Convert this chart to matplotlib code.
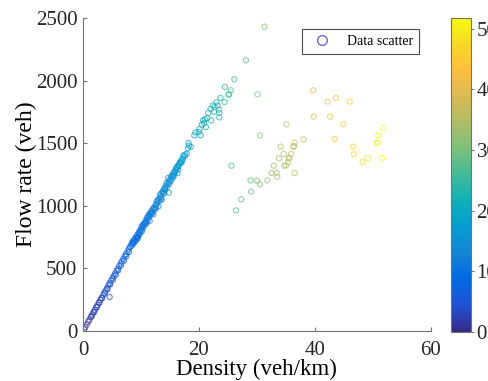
import numpy as np
import matplotlib
matplotlib.use("Agg")
import matplotlib.pyplot as plt
from matplotlib.colors import LinearSegmentedColormap, Normalize
from matplotlib.cm import ScalarMappable
from matplotlib.lines import Line2D

# free-flow branch (density veh/km, flow veh)
free_density = [
    0.2, 0.4, 0.65, 0.9, 1.1, 1.35, 1.6, 1.8, 2.05, 2.3, 2.5, 2.75, 3.0, 3.2,
    3.45, 3.7, 3.9, 4.15, 4.4, 4.6, 4.85, 5.1, 5.3, 5.55, 5.8, 6.0, 6.25, 6.5,
    6.7, 6.95, 7.2, 7.4, 7.65, 7.9, 8.1,
    1.5, 1.95, 2.4, 2.85, 3.3, 3.75, 4.25, 4.7, 5.2, 5.65, 6.1, 6.6, 7.05, 7.5,
    7.95, 4.6,
    8.3, 8.4, 8.5, 8.6, 8.7, 8.8, 8.9, 9.0, 9.1, 9.2, 9.3, 9.4, 9.5, 9.6, 9.7,
    9.8, 9.9, 10.0, 10.1, 10.2, 10.3, 10.4, 10.5, 10.6, 10.7, 10.8, 10.9, 11.0,
    11.1, 11.2, 11.3, 11.4, 11.5, 11.5, 11.6, 11.7, 11.8, 11.9, 12.0, 12.1,
    12.2, 12.3, 12.4, 12.5, 12.6, 12.7, 12.8, 12.9, 13.0, 13.1, 13.2, 13.3,
    13.4, 13.5, 13.6, 13.7, 13.8, 13.9, 14.0, 14.1, 14.2, 14.3, 14.4, 14.5,
    14.6, 14.7, 14.8, 14.8, 15.0, 15.1, 15.2, 15.3, 15.4, 15.5, 15.6, 15.7,
    15.8, 15.9, 16.0, 16.1, 16.2, 16.3, 16.4, 16.5, 16.6, 16.7, 16.8, 16.9,
    17.0, 17.2, 17.3, 17.5, 17.6, 17.9, 18.1, 18.2, 18.3, 18.6,
    9.4, 10.2, 11.0, 11.9, 12.6, 13.4, 14.0, 14.9, 15.6, 16.4, 17.1,
    19.2, 19.4, 20.0, 20.1, 20.3, 20.5, 20.7, 20.9, 21.0, 21.2, 21.4, 21.6,
    22.0, 22.1, 22.4, 22.6, 22.7, 23.0, 23.2, 23.5, 23.5, 23.5, 23.7, 24.4,
    24.5, 25.1, 25.2, 25.5, 26.1,
]
free_flow = [
    14, 31, 53, 74, 90, 112, 132, 150, 170, 191, 207, 229, 249, 265,
    286, 307, 324, 345, 366, 382, 403, 424, 440, 461, 482, 498, 519, 540,
    556, 577, 598, 614, 635, 656, 672,
    118, 154, 190, 226, 262, 298, 336, 372, 412, 448, 486, 524, 562, 598,
    632, 272,
    680, 702, 690, 715, 700, 728, 712, 740, 722, 755, 745, 770, 752, 785, 770,
    800, 788, 812, 835, 818, 845, 830, 858, 848, 862, 880, 870, 902,
    888, 915, 900, 932, 918, 880, 942, 935, 958, 948, 972, 930,
    985, 975, 969, 1002, 1010, 1035, 1018, 1045, 995, 1058, 1040, 1089,
    1070, 1098, 1049, 1110, 1115, 1100, 1135, 1142, 1125, 1160, 1182, 1150,
    1175, 1222, 1195, 1105, 1210, 1195, 1232, 1215, 1245, 1238, 1262, 1250,
    1275, 1268, 1290, 1300, 1310, 1262, 1322, 1315, 1335, 1342, 1350, 1345,
    1368, 1374, 1400, 1395, 1410, 1416, 1459, 1501, 1480, 1470,
    735, 800, 860, 940, 985, 1055, 1100, 1175, 1230, 1290, 1352,
    1562, 1586, 1590, 1613, 1562, 1648, 1682, 1660, 1690, 1629, 1700, 1741,
    1773, 1682, 1802, 1750, 1790, 1826, 1800, 1768, 1741, 1706, 1861, 1829,
    1949, 1887, 1890, 1922, 2010,
]

# congested / scattered points
cong_density = [
    31.3, 28.1, 30.1, 30.5, 25.6, 26.4, 27.3, 29.0, 28.9, 30.0, 30.5, 31.8,
    32.5, 33.4, 33.5, 32.9, 33.8, 34.1, 34.6, 34.7, 35.0, 35.4, 35.5, 35.6,
    35.9, 36.3, 36.4, 36.5, 36.5, 35.1, 38.0,
    39.7, 39.8, 42.2, 43.6, 46.0, 42.6, 44.9, 43.4, 46.6, 46.7, 48.2, 49.1,
    51.6, 50.7, 50.8, 50.9, 51.8,
]
cong_flow = [
    2430, 2161, 1890, 1562, 1320, 963, 1051, 1113, 1203, 1200, 1171, 1203,
    1262, 1264, 1230, 1320, 1379, 1472, 1414, 1320, 1323, 1350, 1379, 1383,
    1414, 1472, 1476, 1504, 1262, 1650, 1530,
    1922, 1712, 1832, 1861, 1832, 1712, 1650, 1534, 1472, 1411, 1350, 1382,
    1382, 1502, 1505, 1562, 1621,
]

# parula-like colormap
parula_pts = [
    (0.2081, 0.1663, 0.5292), (0.1253, 0.3242, 0.8303), (0.0060, 0.4086, 0.8828),
    (0.0793, 0.5200, 0.8312), (0.0265, 0.6137, 0.8135), (0.0590, 0.6838, 0.7254),
    (0.2586, 0.7317, 0.5954), (0.4871, 0.7491, 0.4840), (0.6834, 0.7435, 0.4044),
    (0.8507, 0.7299, 0.3360), (0.9939, 0.7455, 0.2403), (0.9697, 0.8481, 0.1475),
    (0.9763, 0.9831, 0.0538),
]
parula = LinearSegmentedColormap.from_list("parula", parula_pts)

plt.rcParams["font.family"] = ["Liberation Serif", "DejaVu Serif"]

x = np.array(free_density + cong_density)
y = np.array(free_flow + cong_flow)
norm = Normalize(vmin=0, vmax=x.max())

fig = plt.figure(figsize=(4.88, 3.81), dpi=100)
ax = fig.add_axes([0.170, 0.131, 0.713, 0.822])

ax.scatter(x, y, s=14, facecolors="none", edgecolors=parula(norm(x)),
           linewidths=0.8, alpha=0.7)

ax.set_xlim(0, 60)
ax.set_ylim(0, 2500)
ax.set_xticks([0, 20, 40, 60])
ax.set_yticks(range(0, 2501, 500))
for side in ["top", "right"]:
    ax.spines[side].set_visible(False)
for side in ["left", "bottom"]:
    ax.spines[side].set_color("0.45")
    ax.spines[side].set_linewidth(0.8)
ax.tick_params(direction="in", length=3, width=0.8, color="0.45",
               labelsize=15, labelcolor="0.15", pad=4)
ax.tick_params(axis="x", pad=7)
ax.set_xlabel("Density (veh/km)", fontsize=16.5, labelpad=-1)
ax.set_ylabel("Flow rate (veh)", fontsize=17, labelpad=-1)

handle = Line2D([], [], marker="o", linestyle="none", markersize=7,
                markerfacecolor="none", markeredgecolor=(0.45, 0.4, 0.8),
                markeredgewidth=1.0)
leg = ax.legend([handle], ["Data scatter"], loc="upper right",
                bbox_to_anchor=(0.966, 0.965), borderaxespad=0, fontsize=10,
                fancybox=False, edgecolor="0.3", framealpha=1,
                handletextpad=0.8, borderpad=0.45)
leg.get_frame().set_linewidth(0.8)

cax = fig.add_axes([0.924, 0.129, 0.041, 0.824])
cb = fig.colorbar(ScalarMappable(norm=norm, cmap=parula), cax=cax)
cb.set_ticks([0, 10, 20, 30, 40, 50])
cb.outline.set_edgecolor("0.45")
cb.outline.set_linewidth(0.8)
cax.tick_params(direction="out", length=2, width=0.8, color="0.45",
                labelsize=15, labelcolor="0.15", pad=2)

fig.savefig("out.png", dpi=100)
